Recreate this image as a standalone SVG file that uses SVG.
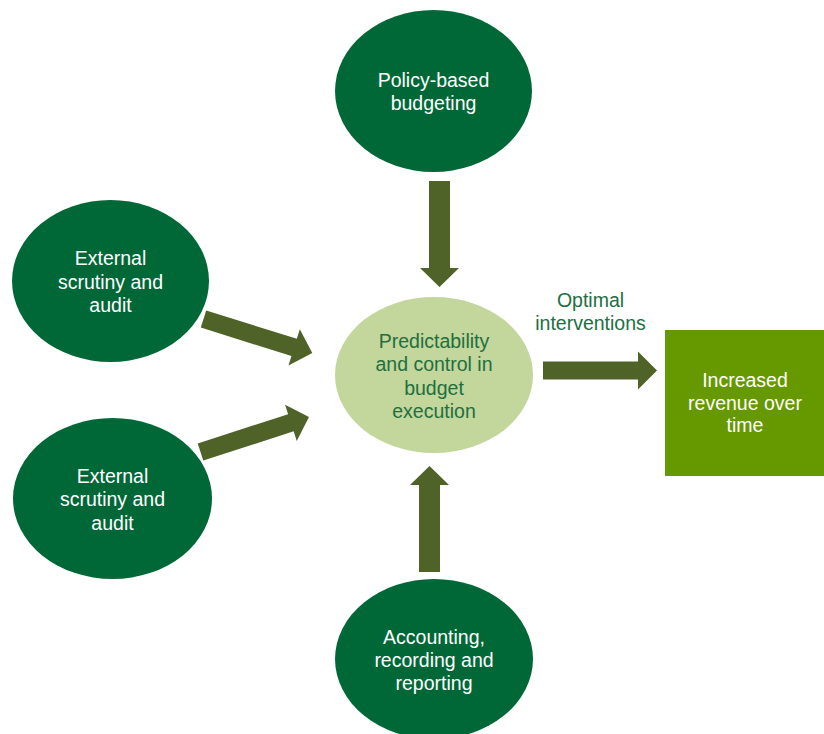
<svg xmlns="http://www.w3.org/2000/svg" width="824" height="734" viewBox="0 0 824 734">
  <style>
    .node-dark { fill: #006837; }
    .node-core { fill: #c3d69b; }
    .node-out { fill: #669900; }
    .label { font-family: "Liberation Sans", Arial, sans-serif; font-size: 19.5px; text-anchor: middle; }
    .light { fill: #ffffff; }
    .deep { fill: #216f3f; }
    .arrow { fill: #4f6228; }
  </style>
  <defs>
    <!-- block arrows drawn along +x from the origin -->
    <path id="arrow-long" d="M0,-9 L95,-9 L95,-19 L114,0 L95,19 L95,9 L0,9 Z"/>
    <path id="arrow-short" d="M0,-10.5 L87,-10.5 L87,-19.5 L106,0 L87,19.5 L87,10.5 L0,10.5 Z"/>
  </defs>

  <g id="connectors" class="arrow">
    <use href="#arrow-short" transform="translate(439.5,181) rotate(90)"/>
    <use href="#arrow-short" transform="translate(429.5,572) rotate(-90)"/>
    <use href="#arrow-long" transform="translate(543,370.5)"/>
    <use href="#arrow-long" transform="translate(203.5,319) rotate(17.4)"/>
    <use href="#arrow-long" transform="translate(200.5,452) rotate(-17.9)"/>
  </g>

  <g id="policy-budgeting">
    <ellipse class="node-dark" cx="433.5" cy="91" rx="98.5" ry="81"/>
    <text class="label light" x="433.5" y="87">Policy-based</text>
    <text class="label light" x="433.5" y="110">budgeting</text>
  </g>

  <g id="predictability">
    <ellipse class="node-core" cx="434" cy="375" rx="99" ry="78"/>
    <text class="label deep" x="434" y="348">Predictability</text>
    <text class="label deep" x="434" y="371.3">and control in</text>
    <text class="label deep" x="434" y="394.6">budget</text>
    <text class="label deep" x="434" y="418">execution</text>
  </g>

  <g id="scrutiny-top">
    <ellipse class="node-dark" cx="110.5" cy="281" rx="98.5" ry="81"/>
    <text class="label light" x="110.5" y="265">External</text>
    <text class="label light" x="110.5" y="288.5">scrutiny and</text>
    <text class="label light" x="110.5" y="312">audit</text>
  </g>

  <g id="scrutiny-bottom">
    <ellipse class="node-dark" cx="112.5" cy="498.5" rx="99.5" ry="80.5"/>
    <text class="label light" x="112.5" y="483">External</text>
    <text class="label light" x="112.5" y="506">scrutiny and</text>
    <text class="label light" x="112.5" y="529.5">audit</text>
  </g>

  <g id="accounting">
    <ellipse class="node-dark" cx="434" cy="659" rx="99" ry="80"/>
    <text class="label light" x="434" y="644">Accounting,</text>
    <text class="label light" x="434" y="667">recording and</text>
    <text class="label light" x="434" y="690">reporting</text>
  </g>

  <g id="revenue">
    <rect class="node-out" x="665" y="330" width="159" height="146"/>
    <text class="label light" x="745" y="387">Increased</text>
    <text class="label light" x="745" y="409.5">revenue over</text>
    <text class="label light" x="745" y="432">time</text>
  </g>

  <g id="interventions-label">
    <text class="label deep" x="590.5" y="307">Optimal</text>
    <text class="label deep" x="590.5" y="329.5">interventions</text>
  </g>
</svg>
